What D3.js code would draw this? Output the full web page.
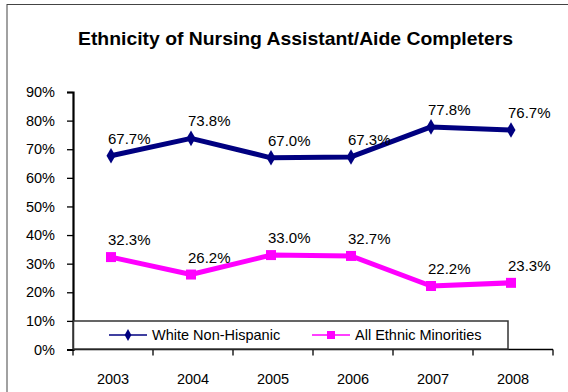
<!DOCTYPE html>
<html><head><meta charset="utf-8">
<script src="https://cdn.jsdelivr.net/npm/d3@7"></script>
<style>
body{margin:0;background:#fff;}
text{font-family:"Liberation Sans",Arial,sans-serif;fill:#000;}
</style></head>
<body><svg id="c" width="568" height="392"></svg>
<script>
const years = ["2003","2004","2005","2006","2007","2008"];
const whiteNonHispanic = [0.677,0.738,0.670,0.673,0.778,0.767];
const allEthnicMinorities = [0.323,0.262,0.330,0.327,0.222,0.233];
const yTicks = [0,0.1,0.2,0.3,0.4,0.5,0.6,0.7,0.8,0.9];
const seriesNames = ["White Non-Hispanic","All Ethnic Minorities"];
const titleText = "Ethnicity of Nursing Assistant/Aide Completers";

const svg = d3.select("#c");
svg.append("rect").attr("x",7).attr("y",4.5).attr("width",700).attr("height",500)
  .attr("fill","#fff").attr("stroke","#444").attr("stroke-width",1);

svg.append("text").attr("x",78).attr("y",44.5)
  .attr("font-size",18.5).attr("font-weight","bold")
  .attr("textLength",435).attr("lengthAdjust","spacingAndGlyphs").text(titleText);

const x = d3.scaleBand().domain(years).range([73,553]);
const y = d3.scaleLinear().domain([0,0.9]).range([349.5,92]);

// y axis
const ya = svg.append("g").attr("transform","translate(73,0)")
  .call(d3.axisLeft(y).tickValues(yTicks).tickFormat(d3.format(".0%")).tickSize(6).tickPadding(12));
ya.select(".domain").attr("stroke","#000").attr("stroke-width",2.2);
ya.selectAll(".tick line").attr("stroke","#000").attr("stroke-width",1.3);
ya.selectAll(".tick text").attr("font-size",14.5).attr("font-family","Liberation Sans, Arial, sans-serif").attr("fill","#000");

// x axis
const xa = svg.append("g").attr("transform","translate(0,349.5)")
  .call(d3.axisBottom(x).tickSize(0).tickPadding(0));
xa.select(".domain").remove();
xa.selectAll(".tick text").attr("font-size",14.5).attr("dy",0).attr("y",34)
  .attr("font-family","Liberation Sans, Arial, sans-serif").attr("fill","#000");
const edges = years.map(d=>x(d)).concat([x.range()[1]]);
xa.selectAll(".edge").data(edges).enter().append("line")
  .attr("x1",d=>d).attr("x2",d=>d).attr("y1",0).attr("y2",6)
  .attr("stroke","#000").attr("stroke-width",1.3);
xa.append("line").attr("x1",73).attr("x2",553).attr("y1",0).attr("y2",0)
  .attr("stroke","#000").attr("stroke-width",1.5);

const cx = d => x(d) + x.bandwidth()/2 - 2;
const line = d3.line().x((d,i)=>cx(years[i])).y(d=>y(d));

function drawSeries(vals,color,shape,sz){
  svg.append("path").datum(vals).attr("d",line).attr("fill","none")
    .attr("stroke",color).attr("stroke-width",5).attr("stroke-linejoin","round");
  svg.selectAll(null).data(vals).enter().append("path")
    .attr("transform",(d,i)=>`translate(${cx(years[i])},${y(d)})`)
    .attr("d",d3.symbol().type(shape).size(sz)).attr("fill",color);
  svg.selectAll(null).data(vals).enter().append("text")
    .attr("x",(d,i)=>cx(years[i])-3).attr("y",d=>y(d)-12)
    .attr("font-size",15).text(d=>d3.format(".1%")(d));
}
drawSeries(whiteNonHispanic,"#000080",d3.symbolDiamond,70);
drawSeries(allEthnicMinorities,"#FF00FF",d3.symbolSquare,100);

// legend
svg.append("rect").attr("x",73.5).attr("y",321).attr("width",434.5).attr("height",28)
  .attr("fill","#fff").attr("stroke","#333").attr("stroke-width",1.5);
const leg = [{name:seriesNames[0],color:"#000080",shape:d3.symbolDiamond,sz:40,x0:109},
             {name:seriesNames[1],color:"#FF00FF",shape:d3.symbolSquare,sz:64,x0:312}];
leg.forEach(l=>{
  svg.append("line").attr("x1",l.x0).attr("x2",l.x0+38).attr("y1",335).attr("y2",335)
    .attr("stroke",l.color).attr("stroke-width",1.5);
  svg.append("path").attr("transform",`translate(${l.x0+19},335)`)
    .attr("d",d3.symbol().type(l.shape).size(l.sz)).attr("fill",l.color);
  svg.append("text").attr("x",l.x0+43).attr("y",340).attr("font-size",14.5).text(l.name);
});
</script></body></html>
